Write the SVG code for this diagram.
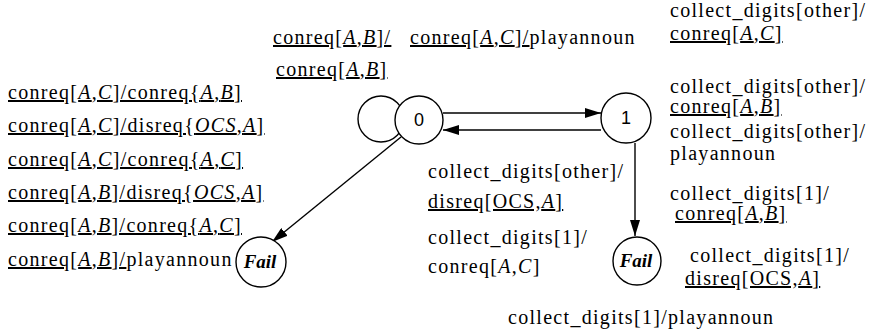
<svg xmlns="http://www.w3.org/2000/svg" width="870" height="335" viewBox="0 0 870 335">
  <style>
    .t { font-family: "Liberation Serif", "Times New Roman", serif; font-size: 20px; letter-spacing: 1.3px; fill: #000; }
    .u { text-decoration: underline; }
    .i { font-style: italic; }
    .node { fill: #fff; stroke: #000; stroke-width: 1.4; }
    .loop { fill: none; stroke: #000; stroke-width: 1.4; }
    .num { font-family: "Liberation Sans", Arial, sans-serif; font-size: 18px; text-anchor: middle; fill: #000; }
    .fail { font-family: "Liberation Serif", "Times New Roman", serif; font-weight: bold; font-style: italic; font-size: 19px; text-anchor: middle; fill: #000; }
    .edge { stroke: #000; stroke-width: 1.4; fill: none; marker-end: url(#ah); }
  </style>
  <defs>
    <marker id="ah" viewBox="0 0 16 10" refX="16" refY="5" markerWidth="16" markerHeight="10" markerUnits="userSpaceOnUse" orient="auto">
      <path d="M0,0 L16,5 L0,10 Z" fill="#000"/>
    </marker>
  </defs>

  <rect width="870" height="335" fill="#fff"/>

  <!-- transitions -->
  <g id="connectors">
    <circle class="loop" cx="381" cy="119" r="23"/>
    <line class="edge" x1="443" y1="113" x2="601" y2="113"/>
    <line class="edge" x1="601" y1="130" x2="443" y2="130"/>
    <line class="edge" x1="635" y1="143" x2="635" y2="236"/>
    <line class="edge" x1="401" y1="137" x2="272" y2="242"/>
  </g>

  <!-- states -->
  <g id="state0">
    <circle class="node" cx="419" cy="120" r="24"/>
    <text class="num" x="419" y="126">0</text>
  </g>
  <g id="state1">
    <circle class="node" cx="626" cy="118" r="25"/>
    <text class="num" x="626" y="124">1</text>
  </g>
  <g id="fail0">
    <circle class="node" cx="261" cy="262" r="25"/>
    <text class="fail" x="260" y="268">Fail</text>
  </g>
  <g id="fail1">
    <circle class="node" cx="637" cy="261" r="24"/>
    <text class="fail" x="636" y="267">Fail</text>
  </g>

  <!-- transition labels: left column -->
  <g id="labels-left">
    <text class="t u" x="8" y="99">conreq[<tspan class="i">A</tspan>,<tspan class="i">C</tspan>]/conreq{<tspan class="i">A</tspan>,<tspan class="i">B</tspan>]</text>
    <text class="t u" x="8" y="132">conreq[<tspan class="i">A</tspan>,<tspan class="i">C</tspan>]/disreq{<tspan class="i">OCS</tspan>,<tspan class="i">A</tspan>]</text>
    <text class="t u" x="8" y="166">conreq[<tspan class="i">A</tspan>,<tspan class="i">C</tspan>]/conreq{<tspan class="i">A</tspan>,<tspan class="i">C</tspan>]</text>
    <text class="t u" x="8" y="199">conreq[<tspan class="i">A</tspan>,<tspan class="i">B</tspan>]/disreq{<tspan class="i">OCS</tspan>,<tspan class="i">A</tspan>]</text>
    <text class="t u" x="8" y="232">conreq[<tspan class="i">A</tspan>,<tspan class="i">B</tspan>]/conreq{<tspan class="i">A</tspan>,<tspan class="i">C</tspan>]</text>
    <text class="t" x="8" y="266"><tspan class="u">conreq[<tspan class="i">A</tspan>,<tspan class="i">B</tspan>]/</tspan>playannoun</text>
  </g>

  <!-- transition labels: top -->
  <g id="labels-top">
    <text class="t u" x="273" y="44">conreq[<tspan class="i">A</tspan>,<tspan class="i">B</tspan>]/</text>
    <text class="t" x="410" y="44"><tspan class="u">conreq[<tspan class="i">A</tspan>,<tspan class="i">C</tspan>]/</tspan>playannoun</text>
    <text class="t u" x="276" y="76">conreq[<tspan class="i">A</tspan>,<tspan class="i">B</tspan>]</text>
  </g>

  <!-- transition labels: middle -->
  <g id="labels-middle">
    <text class="t" x="428" y="178">collect_digits[other]/</text>
    <text class="t u" x="428" y="208">disreq[OCS,<tspan class="i">A</tspan>]</text>
    <text class="t" x="428" y="244">collect_digits[1]/</text>
    <text class="t" x="428" y="273">conreq[<tspan class="i">A</tspan>,<tspan class="i">C</tspan>]</text>
    <text class="t" x="508" y="324">collect_digits[1]/playannoun</text>
  </g>

  <!-- transition labels: right column -->
  <g id="labels-right">
    <text class="t" x="670" y="17">collect_digits[other]/</text>
    <text class="t u" x="670" y="40">conreq[<tspan class="i">A</tspan>,<tspan class="i">C</tspan>]</text>
    <text class="t" x="670" y="93">collect_digits[other]/</text>
    <text class="t u" x="670" y="113">conreq[<tspan class="i">A</tspan>,<tspan class="i">B</tspan>]</text>
    <text class="t" x="670" y="138">collect_digits[other]/</text>
    <text class="t" x="670" y="160">playannoun</text>
    <text class="t" x="670" y="200">collect_digits[1]/</text>
    <text class="t u" x="675" y="220">conreq[<tspan class="i">A</tspan>,<tspan class="i">B</tspan>]</text>
    <text class="t" x="690" y="262">collect_digits[1]/</text>
    <text class="t u" x="685" y="285">disreq[OCS,<tspan class="i">A</tspan>]</text>
  </g>
</svg>
